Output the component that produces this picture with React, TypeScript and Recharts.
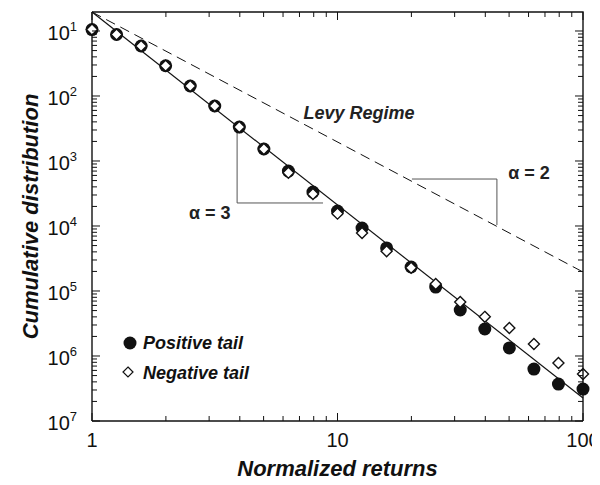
import React from "react";
import { ComposedChart, XAxis, YAxis, Line, Scatter, Legend, ReferenceDot } from "recharts";

// normalized return bins (log spaced)
const returns = [1, 1.259, 1.585, 1.995, 2.512, 3.162, 3.981, 5.012, 6.31, 7.943, 10, 12.59, 15.85, 19.95, 25.12, 31.62, 39.81, 50.12, 63.1, 79.43, 100];
const positiveTail = [0.105, 0.0883, 0.0588, 0.0292, 0.01425, 0.00701, 0.00333, 0.00153, 7.0e-4, 3.33e-4, 1.7e-4, 9.3e-5, 4.6e-5, 2.34e-5, 1.15e-5, 5.1e-6, 2.6e-6, 1.33e-6, 6.3e-7, 3.7e-7, 3.1e-7];
const negativeTail = [0.105, 0.0883, 0.0588, 0.0292, 0.01425, 0.00701, 0.00333, 0.00153, 6.6e-4, 3.1e-4, 1.55e-4, 7.8e-5, 4.1e-5, 2.27e-5, 1.28e-5, 6.8e-6, 4.0e-6, 2.7e-6, 1.53e-6, 7.8e-7, 5.3e-7];

// fitted power laws
const fitX = [1, 100];
const cubicFit = [0.196, 2.26e-7];
const levyFit = [0.196, 1.96e-5];

// slope triangles
const alpha3X = [3.9, 3.9, 8.73];
const alpha3Y = [3.22e-3, 2.26e-4, 2.26e-4];
const alpha2X = [20.1, 44.6, 44.6];
const alpha2Y = [5.28e-4, 5.28e-4, 1.035e-4];

const xMajor = [1, 10, 100];
const yMajor = [1e-7, 1e-6, 1e-5, 1e-4, 1e-3, 1e-2, 1e-1];
const minorSteps = [2, 3, 4, 5, 6, 7, 8, 9];
const xMin = 1;
const xMax = 100;
const yMin = 1e-7;
const yTop = 0.196;

const rows = (xs: number[], ys: number[]) => xs.map((x, i) => ({ x, y: ys[i] }));
const posRows = rows(returns, positiveTail);
const negRows = rows(returns, negativeTail);

const xTicks = [...xMajor, ...xMajor.slice(0, 2).flatMap((d) => minorSteps.map((m) => m * d))];
const yTicks = [...yMajor, ...yMajor.flatMap((d) => minorSteps.map((m) => m * d))].filter((v) => v <= yTop);

const W = 592;
const H = 470;
const margin = { top: 4, right: 17, bottom: 0, left: 0 };
const yAxisW = 84;
const xAxisH = 57;
const box = {
  left: margin.left + yAxisW,
  top: margin.top,
  right: W - margin.right,
  bottom: H - margin.bottom - xAxisH,
};

const font = "'Liberation Sans', Arial, sans-serif";
const ink = "#111";

const LeftTick = (p: any) => {
  const v = p.payload.value;
  const major = yMajor.includes(v);
  return (
    <g>
      <line x1={p.x} x2={p.x + (major ? 8 : 5)} y1={p.y} y2={p.y} stroke={ink} strokeWidth={1} />
      {major && (
        <text x={p.x - 15} y={p.y + 9} textAnchor="end" fontSize={20} fontFamily={font} fill={ink}>
          <tspan>10</tspan>
          <tspan dy={-9} fontSize={13}>{Math.round(-Math.log10(v))}</tspan>
        </text>
      )}
    </g>
  );
};

const BottomTick = (p: any) => {
  const v = p.payload.value;
  const major = xMajor.includes(v);
  return (
    <g>
      <line x1={p.x} x2={p.x} y1={p.y} y2={p.y - (major ? 8 : 5)} stroke={ink} strokeWidth={1} />
      {major && (
        <text x={p.x} y={p.y + 26} textAnchor="middle" fontSize={20} fontFamily={font} fill={ink}>
          {v}
        </text>
      )}
    </g>
  );
};

// top and right edges of the box with their mirrored ticks
const Frame = () => {
  const lx = (t: number) =>
    box.left + ((Math.log10(t) - Math.log10(xMin)) / (Math.log10(xMax) - Math.log10(xMin))) * (box.right - box.left);
  const ly = (t: number) =>
    box.top + ((Math.log10(yTop) - Math.log10(t)) / (Math.log10(yTop) - Math.log10(yMin))) * (box.bottom - box.top);
  return (
    <svg
      width={W}
      height={H}
      style={{ position: "absolute", left: 0, top: 0, pointerEvents: "none", zIndex: 2 }}
    >
      <path d={`M${box.left},${box.top}H${box.right}V${box.bottom}`} fill="none" stroke={ink} strokeWidth={1.4} />
      {xTicks.map((t) => (
        <line key={`tx${t}`} x1={lx(t)} x2={lx(t)} y1={box.top} y2={box.top + (xMajor.includes(t) ? 8 : 5)} stroke={ink} strokeWidth={1} />
      ))}
      {yTicks.map((t) => (
        <line key={`ty${t}`} x1={box.right} x2={box.right - (yMajor.includes(t) ? 8 : 5)} y1={ly(t)} y2={ly(t)} stroke={ink} strokeWidth={1} />
      ))}
    </svg>
  );
};

const FilledDot = (p: any) => <circle cx={p.cx} cy={p.cy} r={6.5} fill={ink} />;
const Diamond = (p: any) => {
  const s = 5.5;
  return (
    <path
      d={`M${p.cx},${p.cy - s}L${p.cx + s},${p.cy}L${p.cx},${p.cy + s}L${p.cx - s},${p.cy}Z`}
      fill="#fff"
      stroke={ink}
      strokeWidth={1.4}
    />
  );
};

const LegendBox = () => (
  <svg width={170} height={56} style={{ display: "block" }}>
    <circle cx={10} cy={10} r={6.5} fill={ink} />
    <text x={23} y={16} fontSize={18} fontWeight="bold" fontStyle="italic" fontFamily={font} fill={ink}>
      Positive tail
    </text>
    <path d="M8,34L13,39L8,44L3,39Z" fill="#fff" stroke={ink} strokeWidth={1.2} />
    <text x={23} y={46} fontSize={18} fontWeight="bold" fontStyle="italic" fontFamily={font} fill={ink}>
      Negative tail
    </text>
  </svg>
);

const note = (value: string, italic: boolean) => ({
  value,
  position: "center" as const,
  fontSize: 18,
  fontWeight: "bold",
  fontStyle: italic ? "italic" : "normal",
  fontFamily: font,
  fill: "#222",
});

const axisLine = { stroke: ink, strokeWidth: 1.4 };

export default function App() {
  return (
    <div style={{ position: "relative", width: W, height: H }}>
      <ComposedChart width={W} height={H} margin={margin}>
        <XAxis
          dataKey="x"
          type="number"
          scale="log"
          domain={[xMin, xMax]}
          ticks={xTicks}
          interval={0}
          tickSize={0}
          tickMargin={0}
          tick={BottomTick}
          axisLine={axisLine}
          height={xAxisH}
          label={{
            value: "Normalized returns",
            position: "insideBottom",
            offset: 2,
            fontSize: 22,
            fontWeight: "bold",
            fontStyle: "italic",
            fontFamily: font,
            fill: ink,
          }}
        />
        <YAxis
          dataKey="y"
          type="number"
          scale="log"
          domain={[yMin, yTop]}
          ticks={yTicks}
          interval={0}
          tickSize={0}
          tickMargin={0}
          tick={LeftTick}
          axisLine={axisLine}
          width={yAxisW}
          label={{
            content: (lp: any) => {
              const vb = lp.viewBox || { y: 0, height: 0 };
              const cy = vb.y + vb.height / 2;
              return (
                <text
                  x={22}
                  y={cy}
                  transform={`rotate(-90 22 ${cy})`}
                  textAnchor="middle"
                  dominantBaseline="central"
                  fontSize={22}
                  fontWeight="bold"
                  fontStyle="italic"
                  fontFamily={font}
                  fill={ink}
                >
                  Cumulative distribution
                </text>
              );
            },
          }}
        />
        <Legend
          layout="vertical"
          align="center"
          verticalAlign="middle"
          wrapperStyle={{ left: 112, top: 325, width: 170 }}
          content={LegendBox}
        />
        <Line data={rows(fitX, levyFit)} dataKey="y" stroke={ink} strokeWidth={1} strokeDasharray="10 6" dot={false} isAnimationActive={false} />
        <Line data={rows(fitX, cubicFit)} dataKey="y" stroke={ink} strokeWidth={1.2} dot={false} isAnimationActive={false} />
        <Line data={rows(alpha3X, alpha3Y)} dataKey="y" stroke="#555" strokeWidth={1} dot={false} isAnimationActive={false} />
        <Line data={rows(alpha2X, alpha2Y)} dataKey="y" stroke="#555" strokeWidth={1} dot={false} isAnimationActive={false} />
        <Scatter data={posRows} dataKey="y" shape={FilledDot} isAnimationActive={false} />
        <Scatter data={negRows} dataKey="y" shape={Diamond} isAnimationActive={false} />
        <ReferenceDot x={12.24} y={5.47e-3} r={0} ifOverflow="visible" label={note("Levy Regime", true)} />
        <ReferenceDot x={3.02} y={1.58e-4} r={0} ifOverflow="visible" label={note("α = 3", false)} />
        <ReferenceDot x={60.3} y={6.53e-4} r={0} ifOverflow="visible" label={note("α = 2", false)} />
      </ComposedChart>
      <Frame />
    </div>
  );
}
